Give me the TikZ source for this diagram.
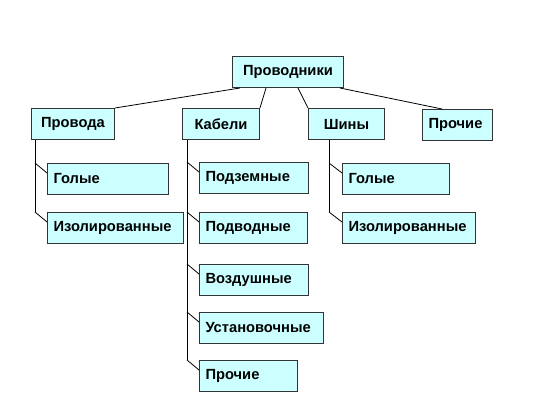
\documentclass[tikz,border=0pt]{standalone}
\usepackage{fontspec}
\setmainfont{Liberation Sans}
\definecolor{boxfill}{HTML}{CCFFFF}
\definecolor{boxline}{HTML}{333333}
\begin{document}
\begin{tikzpicture}[x=1pt, y=-1pt,
	box/.style={draw=boxline, fill=boxfill, line width=1pt, anchor=north west, minimum height=31pt, inner xsep=0pt, font=\fontsize{14.7}{16}\selectfont\bfseries},
	mid/.style={box, minimum width=#1},
	kid/.style={box, text width=#1, inner xsep=6pt, align=left},
	link/.style={draw=black, line width=0.8pt}]
	\useasboundingbox (0,0) rectangle (536,403);
	\node (top) at (232,56) [mid=111pt] {Проводники};
	\node (prov) at (31,108) [mid=83pt] {Провода};
	\node (kab) at (182,108) [mid=77pt] {Кабели};
	\node (shin) at (308,108) [mid=76pt] {Шины};
	\node (proch) at (422,109) [kid=58pt] {Прочие};
	\node (gol1) at (47,163) [kid=109pt] {Голые};
	\node (izol1) at (47,212) [kid=124pt] {Изолированные};
	\node (podz) at (199,162) [kid=97pt] {Подземные};
	\node (podv) at (199,212) [kid=96pt] {Подводные};
	\node (vozd) at (199,264) [kid=97pt] {Воздушные};
	\node (ust) at (199,312) [kid=112pt] {Установочные};
	\node (proch2) at (199,360) [kid=86pt] {Прочие};
	\node (gol2) at (342,163) [kid=95pt] {Голые};
	\node (izol2) at (342,212) [kid=121pt] {Изолированные};
	\draw[link] ([xshift=8pt]top.south west) -- (prov.north east);
	\draw[link] ([xshift=34pt]top.south west) -- (kab.north east);
	\draw[link] ([xshift=66pt]top.south west) -- (shin.north west);
	\draw[link] ([xshift=108pt]top.south west) -- ([xshift=20pt]proch.north west);
	\coordinate (provx) at ([xshift=4pt]prov.south west);
	\coordinate (kabx) at ([xshift=5pt]kab.south west);
	\coordinate (shinx) at ([xshift=21pt]shin.south west);
	\draw[link] (provx) -- (provx |- izol1.north west);
	\draw[link] (kabx) -- (kabx |- proch2.north west);
	\draw[link] (shinx) -- (shinx |- izol2.north west);
	\foreach \p/\c in {provx/gol1, provx/izol1, kabx/podz, kabx/podv, kabx/vozd, kabx/ust, kabx/proch2, shinx/gol2, shinx/izol2}
		\draw[link] (\p |- \c.north west) -- ([yshift=-10pt]\c.north west);
\end{tikzpicture}
\end{document}
